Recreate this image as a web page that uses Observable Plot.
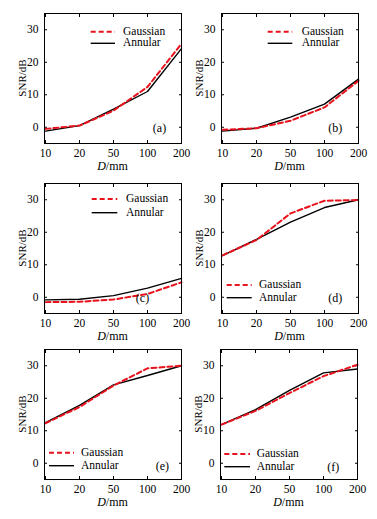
<!DOCTYPE html>
<html><head><meta charset="utf-8">
<script src="https://cdn.jsdelivr.net/npm/d3@7"></script>
<script src="https://cdn.jsdelivr.net/npm/@observablehq/plot@0.6"></script>
<style>
body{margin:0;background:#fff;font-family:'Liberation Serif',serif;}
#root{position:relative;width:377px;height:519px;overflow:hidden;background:#fff}
.panel{position:absolute;width:188px;height:170px}
.panel svg{position:absolute;left:0;top:0;overflow:visible;font-family:'Liberation Serif',serif}
.panel svg text{font-family:'Liberation Serif',serif}
.lab{position:absolute;white-space:nowrap;color:#000;line-height:1;font-family:'Liberation Serif',serif}
</style></head><body><div id="root"></div>
<script>
// ---- data ----
const diameters = ["10", "20", "50", "100", "200"];
const seriesNames = ["Gaussian", "Annular"];
const panelLabels = ["(a)", "(b)", "(c)", "(d)", "(e)", "(f)"];
const yTicks = [0, 10, 20, 30];

const gaussianA = [-0.5, 0.5, 5.1, 12.4, 25.7];
const annularA  = [-1.2, 0.5, 5.6, 11.0, 24.2];
const gaussianB = [-0.8, -0.3, 2.0, 6.1, 14.3];
const annularB  = [-1.2, -0.3, 3.1, 7.1, 14.8];
const gaussianC = [-1.5, -1.4, -0.7, 1.0, 4.6];
const annularC  = [-0.8, -0.6, 0.5, 2.8, 5.8];
const gaussianD = [12.9, 17.6, 25.8, 29.7, 29.9];
const annularD  = [12.8, 17.8, 23.1, 27.6, 30.0];
const gaussianE = [12.3, 17.3, 23.9, 29.2, 30.0];
const annularE  = [12.5, 17.8, 24.1, 27.0, 30.0];
const gaussianF = [11.9, 16.1, 21.6, 26.8, 30.3];
const annularF  = [11.9, 16.5, 22.4, 27.8, 29.0];

const gaussianAll = [gaussianA, gaussianB, gaussianC, gaussianD, gaussianE, gaussianF];
const annularAll  = [annularA, annularB, annularC, annularD, annularE, annularF];

// ---- layout (per panel) ----
const layout = [
  {left: 0,   top: 0,   leg: {x1: 90.7, x2: 115, y1: 31.7, y2: 43.3, tx: 123}, pl: {x: 159.5, y: 127.7}},
  {left: 177, top: 0,   leg: {x1: 90.7, x2: 115.3, y1: 31.7, y2: 43.3, tx: 124.7}, pl: {x: 158.3, y: 127.7}},
  {left: 0,   top: 170, leg: {x1: 91.7, x2: 117.3, y1: 29, y2: 42.7, tx: 126}, pl: {x: 142.5, y: 127.7}},
  {left: 177, top: 170, leg: {x1: 49.7, x2: 74.7, y1: 115, y2: 127.7, tx: 82}, pl: {x: 158.3, y: 127.7}},
  {left: 0,   top: 336, leg: {x1: 49, x2: 74, y1: 116.7, y2: 129.7, tx: 81}, pl: {x: 162.3, y: 130}},
  {left: 176, top: 336, leg: {x1: 48.3, x2: 74, y1: 118, y2: 130.7, tx: 80.7}, pl: {x: 157.3, y: 130.7}}
];

const RED = "#e8121c";
const FONT = "'Liberation Serif', serif";
const root = document.getElementById("root");

layout.forEach((L, i) => {
  const rows = [];
  diameters.forEach((d, j) => {
    rows.push({d, series: seriesNames[0], v: gaussianAll[i][j]});
    rows.push({d, series: seriesNames[1], v: annularAll[i][j]});
  });
  const chart = Plot.plot({
    width: 187, height: 170,
    marginLeft: 44, marginRight: 6, marginTop: 13, marginBottom: 27,
    style: {fontFamily: FONT, fontSize: "11.5px", background: "transparent", color: "#000", overflow: "visible"},
    x: {type: "point", domain: diameters, padding: 0},
    y: {domain: [-5, 35]},
    marks: [
      Plot.axisX({ticks: diameters, tickSize: 0, tickPadding: 5, label: null, fontSize: 11.5}),
      Plot.axisX({ticks: diameters, tickSize: -3, text: null, label: null}),
      Plot.axisX({anchor: "top", ticks: diameters, tickSize: -3, text: null, label: null}),
      Plot.axisY({ticks: yTicks, tickSize: 0, tickPadding: 6, label: null, fontSize: 11.5}),
      Plot.axisY({ticks: yTicks, tickSize: -3, text: null, label: null}),
      Plot.axisY({anchor: "right", ticks: yTicks, tickSize: -3, text: null, label: null}),
      Plot.line(rows.filter(r => r.series === "Annular"), {x: "d", y: "v", stroke: "#000", strokeWidth: 1.4}),
      Plot.line(rows.filter(r => r.series === "Gaussian"), {x: "d", y: "v", stroke: RED, strokeWidth: 2, strokeDasharray: "5,3"}),
      Plot.frame({stroke: "#000", strokeWidth: 1})
    ]
  });
  const div = document.createElement("div");
  div.className = "panel";
  div.style.left = L.left + "px";
  div.style.top = L.top + "px";
  div.appendChild(chart);

  // legend
  const ns = "http://www.w3.org/2000/svg";
  const lg = document.createElementNS(ns, "svg");
  lg.setAttribute("width", 188); lg.setAttribute("height", 170);
  lg.style.position = "absolute"; lg.style.left = "0"; lg.style.top = "0";
  const mk = (y, stroke, sw, dash) => {
    const l = document.createElementNS(ns, "line");
    l.setAttribute("x1", L.leg.x1); l.setAttribute("x2", L.leg.x2);
    l.setAttribute("y1", y); l.setAttribute("y2", y);
    l.setAttribute("stroke", stroke); l.setAttribute("stroke-width", sw);
    if (dash) l.setAttribute("stroke-dasharray", dash);
    lg.appendChild(l);
  };
  mk(L.leg.y1, RED, 2, "5,3");
  mk(L.leg.y2, "#000", 1.4, null);
  div.appendChild(lg);

  const addLab = (html, x, y, size, tf) => {
    const t = document.createElement("div");
    t.className = "lab";
    t.innerHTML = html;
    t.style.left = x + "px"; t.style.top = y + "px";
    t.style.fontSize = size + "px";
    t.style.transform = tf;
    div.appendChild(t);
  };
  addLab(seriesNames[0], L.leg.tx, L.leg.y1, 11.5, "translate(0,-50%)");
  addLab(seriesNames[1], L.leg.tx, L.leg.y2, 11.5, "translate(0,-50%)");
  addLab(panelLabels[i], L.pl.x, L.pl.y, 12, "translate(-50%,-50%)");
  addLab("<i>D</i>/mm", 112.5, 166, 12, "translate(-50%,-50%)");
  addLab("SNR/dB", 21.5, 78, 11, "translate(-50%,-50%) rotate(-90deg)");
  root.appendChild(div);
});
</script>
</body></html>
